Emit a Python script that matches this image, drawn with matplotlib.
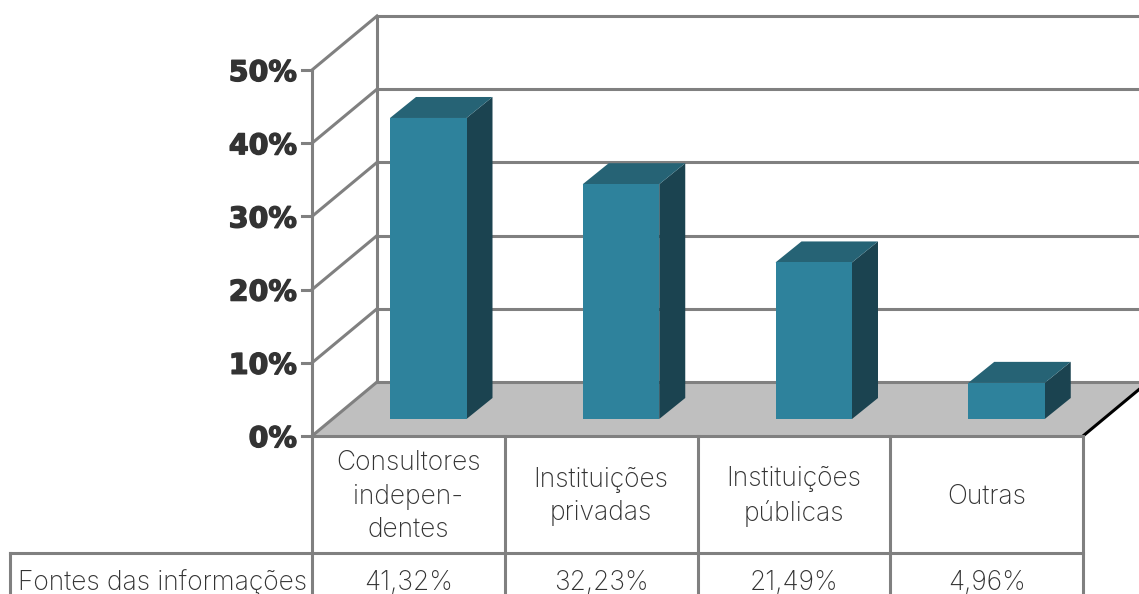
"""Fontes das informacoes: 3D-look bar chart with data table below."""
import matplotlib
matplotlib.use("Agg")
import matplotlib.pyplot as plt
import matplotlib.patheffects as pe
from matplotlib.patches import Polygon

categories = ["Consultores\nindepen-\ndentes", "Instituições\nprivadas", "Instituições\npúblicas", "Outras"]
values = [41.32, 32.23, 21.49, 4.96]
value_labels = ["41,32%", "32,23%", "21,49%", "4,96%"]
y_ticks = [0, 10, 20, 30, 40, 50]
y_tick_labels = ["0%", "10%", "20%", "30%", "40%", "50%"]
row_label = "Fontes das informações"

C_GRID = "#808080"
C_FRONT = "#2e829c"
C_TOP = "#266375"
C_SIDE = "#1b4350"
C_FLOOR = "#bfbfbf"
C_TEXT = "#333333"

W, H = 1139, 594
X0, Y0 = 312, 436      # front-left corner of the floor
PX_PER_PCT = 7.32
BAR_PX_PER_PCT = 7.285
DX, DY = 65, -54       # depth of the box
CELL = 192.75
BAR_W, BAR_DX, BAR_DY = 76.5, 26, -21
BAR_OFF, BAR_LIFT = 78, 17
LW = 2.2

fig = plt.figure(figsize=(W / 100, H / 100), dpi=100)
ax = fig.add_axes([0, 0, 1, 1])
ax.set_xlim(0, W)
ax.set_ylim(H, 0)
ax.axis("off")


def line(xs, ys, color=C_GRID, lw=LW, z=2):
    ax.plot(xs, ys, color=color, lw=lw, zorder=z, solid_capstyle="projecting")


def y_of(v):
    return Y0 - v * PX_PER_PCT


# floor
x_right = X0 + CELL * len(categories)
ax.add_patch(Polygon([(X0, Y0), (X0 + DX, Y0 + DY), (W + 5, Y0 + DY), (x_right + DX, Y0 + DY),
                      (x_right, Y0)], facecolor=C_FLOOR, edgecolor="none", zorder=1))
line([x_right, x_right + DX], [Y0, Y0 + DY], color="black", z=3)

# walls and gridlines
line([X0, X0], [y_of(y_ticks[-1]), H])
line([X0 + DX, X0 + DX], [y_of(y_ticks[-1]) + DY, Y0 + DY])
for t, lab in zip(y_ticks, y_tick_labels):
    y = y_of(t)
    line([X0 - 10, X0], [y, y])
    line([X0, X0 + DX], [y, y + DY])
    line([X0 + DX, W], [y + DY, y + DY])
    txt = ax.text(X0 - 15, y + 3, lab, ha="right", va="center", fontsize=20.5,
                  fontweight="bold", color=C_TEXT, family="DejaVu Sans")
    txt.set_path_effects([pe.withStroke(linewidth=1.0, foreground=C_TEXT)])

# bars
for i, v in enumerate(values):
    left = X0 + BAR_OFF + i * CELL
    right = left + BAR_W
    base = Y0 - BAR_LIFT
    top = base - v * BAR_PX_PER_PCT
    ax.add_patch(Polygon([(right, base), (right + BAR_DX, base + BAR_DY),
                          (right + BAR_DX, top + BAR_DY), (right, top)],
                         facecolor=C_SIDE, edgecolor="none", zorder=4))
    ax.add_patch(Polygon([(left, top), (right, top), (right + BAR_DX, top + BAR_DY),
                          (left + BAR_DX, top + BAR_DY)],
                         facecolor=C_TOP, edgecolor="none", zorder=4))
    ax.add_patch(Polygon([(left, base), (right, base), (right, top), (left, top)],
                         facecolor=C_FRONT, edgecolor="none", zorder=5))

# table
ROW_Y = 553
line([X0, x_right], [Y0, Y0], z=6)
line([10, x_right], [ROW_Y, ROW_Y])
line([10, 10], [ROW_Y, H])
for i in range(1, len(categories) + 1):
    x = X0 + i * CELL
    line([x, x], [Y0, H])
for i, (cat, lab) in enumerate(zip(categories, value_labels)):
    cx = X0 + (i + 0.5) * CELL
    ax.text(cx, (Y0 + ROW_Y) / 2 + 2, cat, ha="center", va="center", fontsize=19,
            color=C_TEXT, family="Inter", fontweight="light", linespacing=1.37)
    ax.text(cx, 583, lab, ha="center", va="center", fontsize=19,
            color=C_TEXT, family="Inter", fontweight="light")
ax.text(18, 583, row_label, ha="left", va="center", fontsize=19,
        color=C_TEXT, family="Inter", fontweight="light")

fig.savefig("out.png", dpi=100)
